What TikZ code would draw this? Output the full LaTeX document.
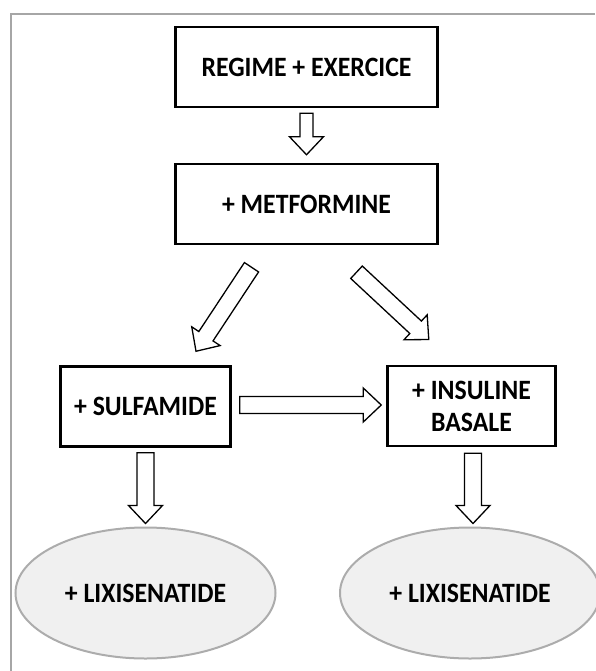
\documentclass[tikz,border=0pt]{standalone}
\usepackage{fontspec}
\setmainfont{Carlito}[FakeStretch=0.92]
\usetikzlibrary{calc,shapes.geometric}

\tikzset{
  stepbox/.style={draw, line width=2.5pt, minimum height=80pt,
    font=\bfseries\fontsize{28}{32}\selectfont, align=center},
  lixi/.style={ellipse, draw=gray!65, fill=gray!12, line width=2pt,
    minimum width=260pt, minimum height=131pt,
    font=\bfseries\fontsize{28}{32}\selectfont},
  blockarrow/.style={draw, fill=white, line width=1.3pt, line join=miter}
}

% hollow block arrow between two points, #1 = half shaft width
\newcommand{\fatarrow}[3][8.5]{%
  \draw[blockarrow] let \p1=(#2), \p2=(#3),
    \n1={atan2(\y2-\y1,\x2-\x1)}, \n2={veclen(\x2-\x1,\y2-\y1)} in
    [shift={(\p1)}, rotate=\n1]
    (0,-#1) -- (\n2-18,-#1) -- (\n2-18,-17) -- (\n2,0)
    -- (\n2-18,17) -- (\n2-18,#1) -- (0,#1) -- cycle;}

\begin{document}
\begin{tikzpicture}[x=1pt, y=-1pt]
\useasboundingbox (0,0) rectangle (595,671);
\draw[gray!70, line width=1.5pt] (595,14) -- (11,14) -- (11,671);

\node[stepbox, minimum width=262pt] (regime) at (306.5,67) {REGIME + EXERCICE};
\node[stepbox, minimum width=262pt] (metformine) at (306.5,204) {+ METFORMINE};
\node[stepbox, minimum width=170pt] (sulfamide) at (145.5,406.5) {+ SULFAMIDE};
\node[stepbox, minimum width=168pt] (insuline) at (471.5,406) {+ INSULINE\\BASALE};
\node[lixi] (lixione) at (145.5,593) {+ LIXISENATIDE};
\node[lixi] (lixitwo) at (470,593) {+ LIXISENATIDE};

\fatarrow[6.5]{$(regime.south)+(0,5)$}{$(metformine.north)+(0,-8)$}
\fatarrow{$(metformine.south)+(-55,22)$}{$(sulfamide.north)+(50.5,-14)$}
\fatarrow{$(metformine.south)+(50,27)$}{$(insuline.north)+(-42.5,-25)$}
\fatarrow{$(sulfamide.east)+(8,-1.5)$}{$(insuline.west)+(-5,-1)$}
\fatarrow{$(sulfamide.south)+(0,5)$}{$(lixione.north)+(0,-3)$}
\fatarrow{$(insuline.south)+(1.5,6)$}{$(lixitwo.north)+(3,-3)$}
\end{tikzpicture}
\end{document}
